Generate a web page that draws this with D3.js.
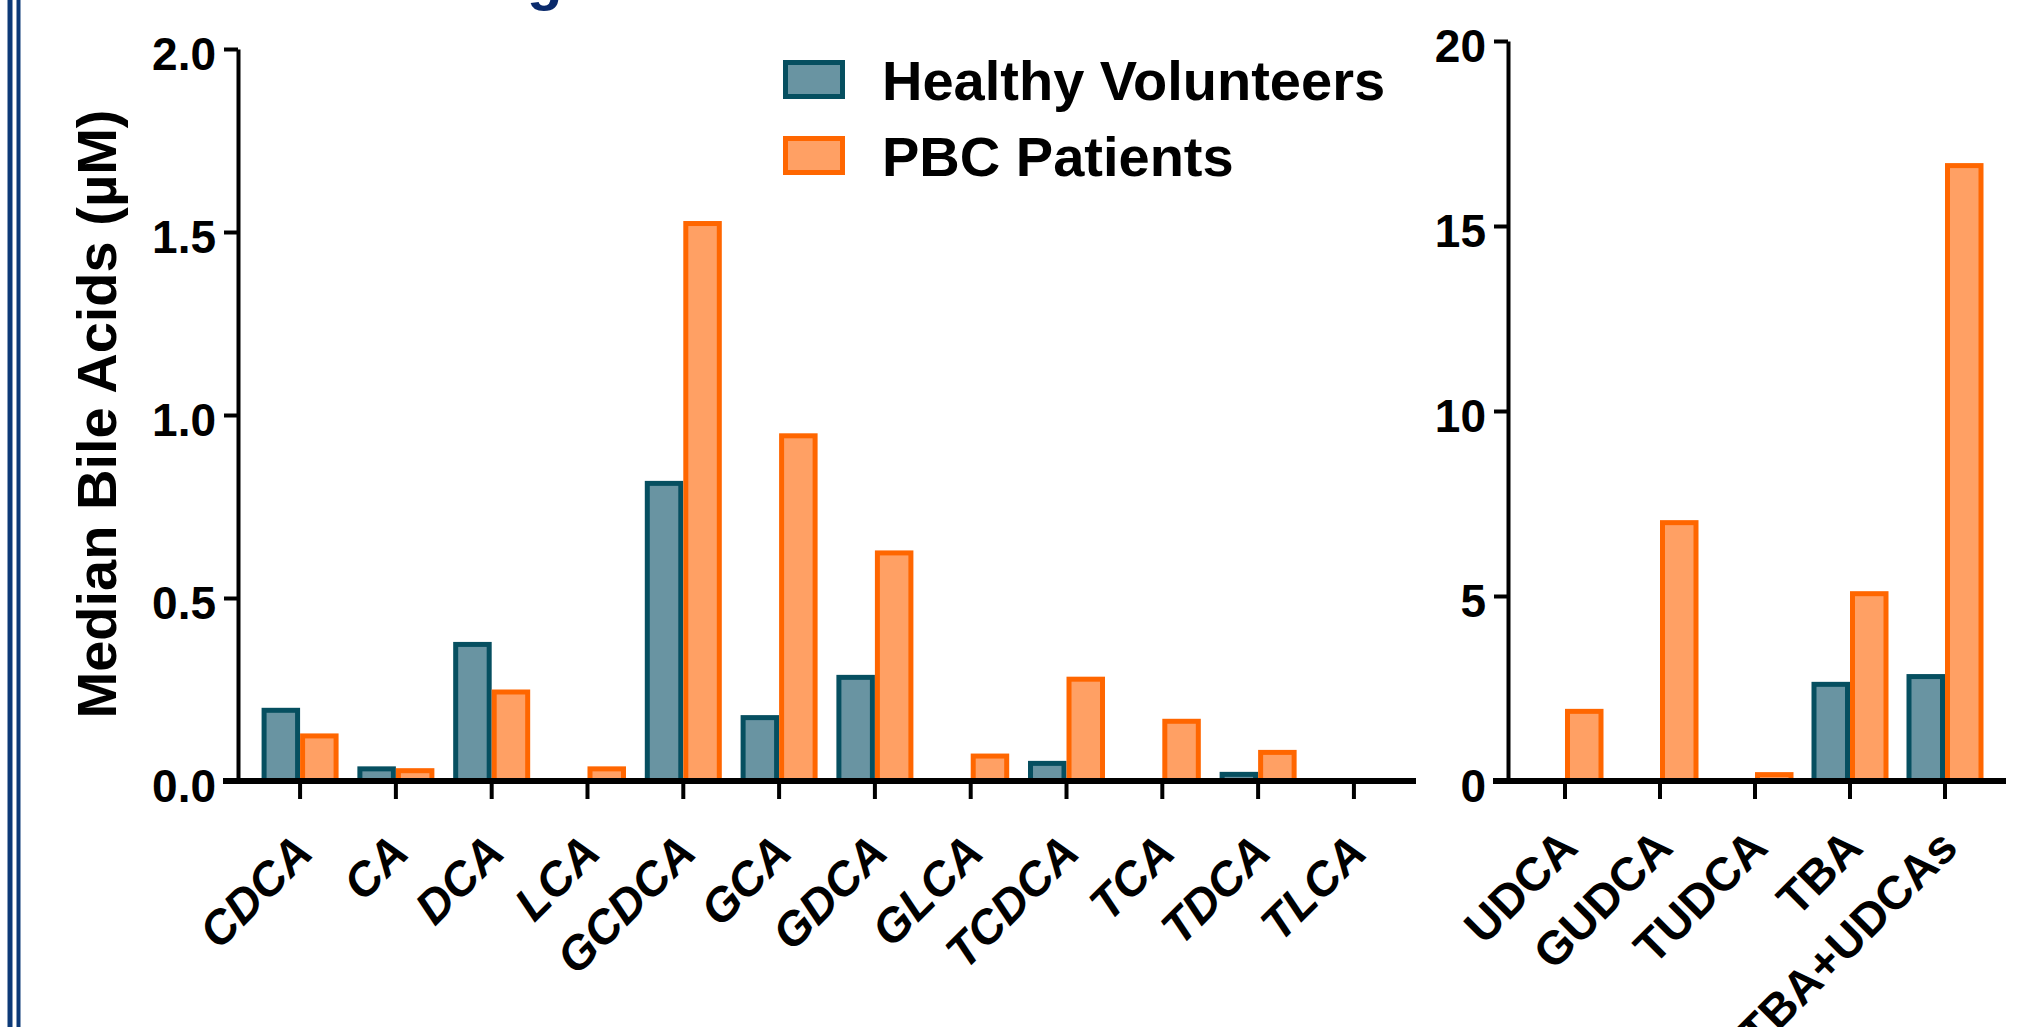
<!DOCTYPE html>
<html>
<head>
<meta charset="utf-8">
<script src="https://cdn.jsdelivr.net/npm/d3@7/dist/d3.min.js"></script>
<style>
  html, body { margin: 0; padding: 0; background: #ffffff; }
  svg { display: block; }
  text { font-family: "Liberation Sans", Arial, Helvetica, sans-serif; font-weight: bold; }
</style>
</head>
<body>
<svg id="chart" width="2025" height="1027"></svg>
<script>
// ---- data ----
const categoriesLeft = ["CDCA", "CA", "DCA", "LCA", "GCDCA", "GCA", "GDCA", "GLCA", "TCDCA", "TCA", "TDCA", "TLCA"];
const healthyLeft    = [0.20, 0.04, 0.38, 0.002, 0.82, 0.18, 0.29, 0.003, 0.055, 0.008, 0.025, 0];
const pbcLeft        = [0.13, 0.035, 0.25, 0.04, 1.53, 0.95, 0.63, 0.075, 0.285, 0.17, 0.085, 0.006];

const categoriesRight = ["UDCA", "GUDCA", "TUDCA", "TBA", "TBA+UDCAs"];
const healthyRight    = [0, 0.02, 0, 2.68, 2.89];
const pbcRight        = [1.95, 7.05, 0.24, 5.13, 16.7];

const yTicksLeft  = [0, 0.5, 1.0, 1.5, 2.0];
const yTicksRight = [0, 5, 10, 15, 20];

const seriesNames = ["Healthy Volunteers", "PBC Patients"];
const yTitle = "Median Bile Acids (\u00B5M)";

// ---- styles ----
const colors = {
  healthy: { fill: "#6994a2", stroke: "#064f60" },
  pbc:     { fill: "#ffa064", stroke: "#ff6600" }
};
const BAR_STROKE = 5;

const svg = d3.select("#chart");
svg.append("rect").attr("width", 2025).attr("height", 1027).attr("fill", "#ffffff");

// left double border
svg.append("rect").attr("x", 7.5).attr("y", 0).attr("width", 5).attr("height", 1027).attr("fill", "#0d3a78");
svg.append("rect").attr("x", 16.5).attr("y", 0).attr("width", 4).attr("height", 1027).attr("fill", "#0d3a78");

// fragment of slide title (descender visible only)
svg.append("text").attr("x", 527).attr("y", -1).attr("font-size", 58).attr("fill", "#0a2a6b").text("g");

function drawPanel(cfg) {
  const g = svg.append("g");
  const x = d3.scaleBand().domain(cfg.categories).range([cfg.x0, cfg.x1]).paddingInner(0).paddingOuter(cfg.po);
  const y = d3.scaleLinear().domain(cfg.yDomain).range([cfg.yBottom, cfg.yTop]);
  const sub = d3.scaleBand().domain(["healthy", "pbc"]).range([0, cfg.barW * 2]);

  const data = cfg.categories.map((c, i) => ({ cat: c, healthy: cfg.healthy[i], pbc: cfg.pbc[i] }));

  ["healthy", "pbc"].forEach(key => {
    const bars = g.selectAll(".bar-" + key).data(data).enter().append("g");
    bars.append("rect")
      .attr("x", d => x(d.cat) + x.bandwidth() / 2 - cfg.barW + sub(key))
      .attr("y", d => y(d[key]))
      .attr("width", sub.bandwidth())
      .attr("height", d => y(0) - y(d[key]))
      .attr("fill", colors[key].stroke);
    bars.filter(d => y(0) - y(d[key]) > BAR_STROKE)
      .append("rect")
      .attr("x", d => x(d.cat) + x.bandwidth() / 2 - cfg.barW + sub(key) + BAR_STROKE)
      .attr("y", d => y(d[key]) + BAR_STROKE)
      .attr("width", sub.bandwidth() - 2 * BAR_STROKE)
      .attr("height", d => y(0) - y(d[key]) - BAR_STROKE)
      .attr("fill", colors[key].fill);
  });

  // y axis
  const yAxis = d3.axisLeft(y).tickValues(cfg.yTicks).tickFormat(cfg.fmt)
    .tickSizeInner(14).tickSizeOuter(0).tickPadding(8);
  const ya = g.append("g").attr("transform", `translate(${cfg.x0},0)`).call(yAxis);
  ya.select(".domain").attr("stroke", "#000").attr("stroke-width", 4);
  ya.selectAll(".tick line").attr("stroke", "#000").attr("stroke-width", 4);
  ya.selectAll(".tick text").attr("font-size", 46).attr("font-weight", "bold")
    .attr("fill", "#000").attr("dy", "0.44em")
    .attr("font-family", "'Liberation Sans', Arial, sans-serif");

  // x axis ticks
  const xAxis = d3.axisBottom(x).tickSizeInner(18).tickSizeOuter(0).tickFormat("");
  const xa = g.append("g").attr("transform", `translate(0,${cfg.yBottom})`).call(xAxis);
  xa.select(".domain").remove();
  xa.selectAll(".tick line").attr("stroke", "#000").attr("stroke-width", 4);

  // baseline
  g.append("line")
    .attr("x1", cfg.x0 - 15).attr("x2", cfg.baseEnd)
    .attr("y1", cfg.yBottom).attr("y2", cfg.yBottom)
    .attr("stroke", "#000").attr("stroke-width", 6);

  // category labels
  g.selectAll(".cat-label").data(cfg.categories).enter().append("text")
    .attr("transform", d => `translate(${x(d) + x.bandwidth() / 2 + cfg.labelDx},${cfg.labelY}) rotate(-45)`)
    .attr("text-anchor", "end")
    .attr("font-size", cfg.labelSize)
    .attr("font-style", cfg.italic ? "italic" : "normal")
    .attr("fill", "#000")
    .text(d => d);
}

drawPanel({
  categories: categoriesLeft, healthy: healthyLeft, pbc: pbcLeft,
  x0: 238, x1: 1416, po: 0.148, baseEnd: 1416,
  yDomain: [0, 2], yBottom: 781, yTop: 49, yTicks: yTicksLeft, fmt: d3.format(".1f"),
  barW: 38.5, labelDx: 15, labelY: 855, labelSize: 47, italic: true
});

drawPanel({
  categories: categoriesRight, healthy: healthyRight, pbc: pbcRight,
  x0: 1508, x1: 2002, po: 0.1, baseEnd: 2006,
  yDomain: [0, 20], yBottom: 781, yTop: 41, yTicks: yTicksRight, fmt: d3.format("d"),
  barW: 38.5, labelDx: 15, labelY: 850, labelSize: 47, italic: false
});

// y-axis title
svg.append("text")
  .attr("transform", "translate(116,414) rotate(-90)")
  .attr("text-anchor", "middle")
  .attr("font-size", 56)
  .attr("fill", "#000")
  .text(yTitle);

// legend
const legend = svg.append("g");
const legendKeys = ["healthy", "pbc"];
const legendY = [60, 136];
legendKeys.forEach((k, i) => {
  legend.append("rect").attr("x", 783).attr("y", legendY[i]).attr("width", 62).attr("height", 39)
    .attr("fill", colors[k].stroke);
  legend.append("rect").attr("x", 783 + BAR_STROKE).attr("y", legendY[i] + BAR_STROKE)
    .attr("width", 62 - 2 * BAR_STROKE).attr("height", 39 - 2 * BAR_STROKE)
    .attr("fill", colors[k].fill);
  legend.append("text").attr("x", 882).attr("y", legendY[i] + 40)
    .attr("font-size", 56).attr("fill", "#000").text(seriesNames[i]);
});
</script>
</body>
</html>
